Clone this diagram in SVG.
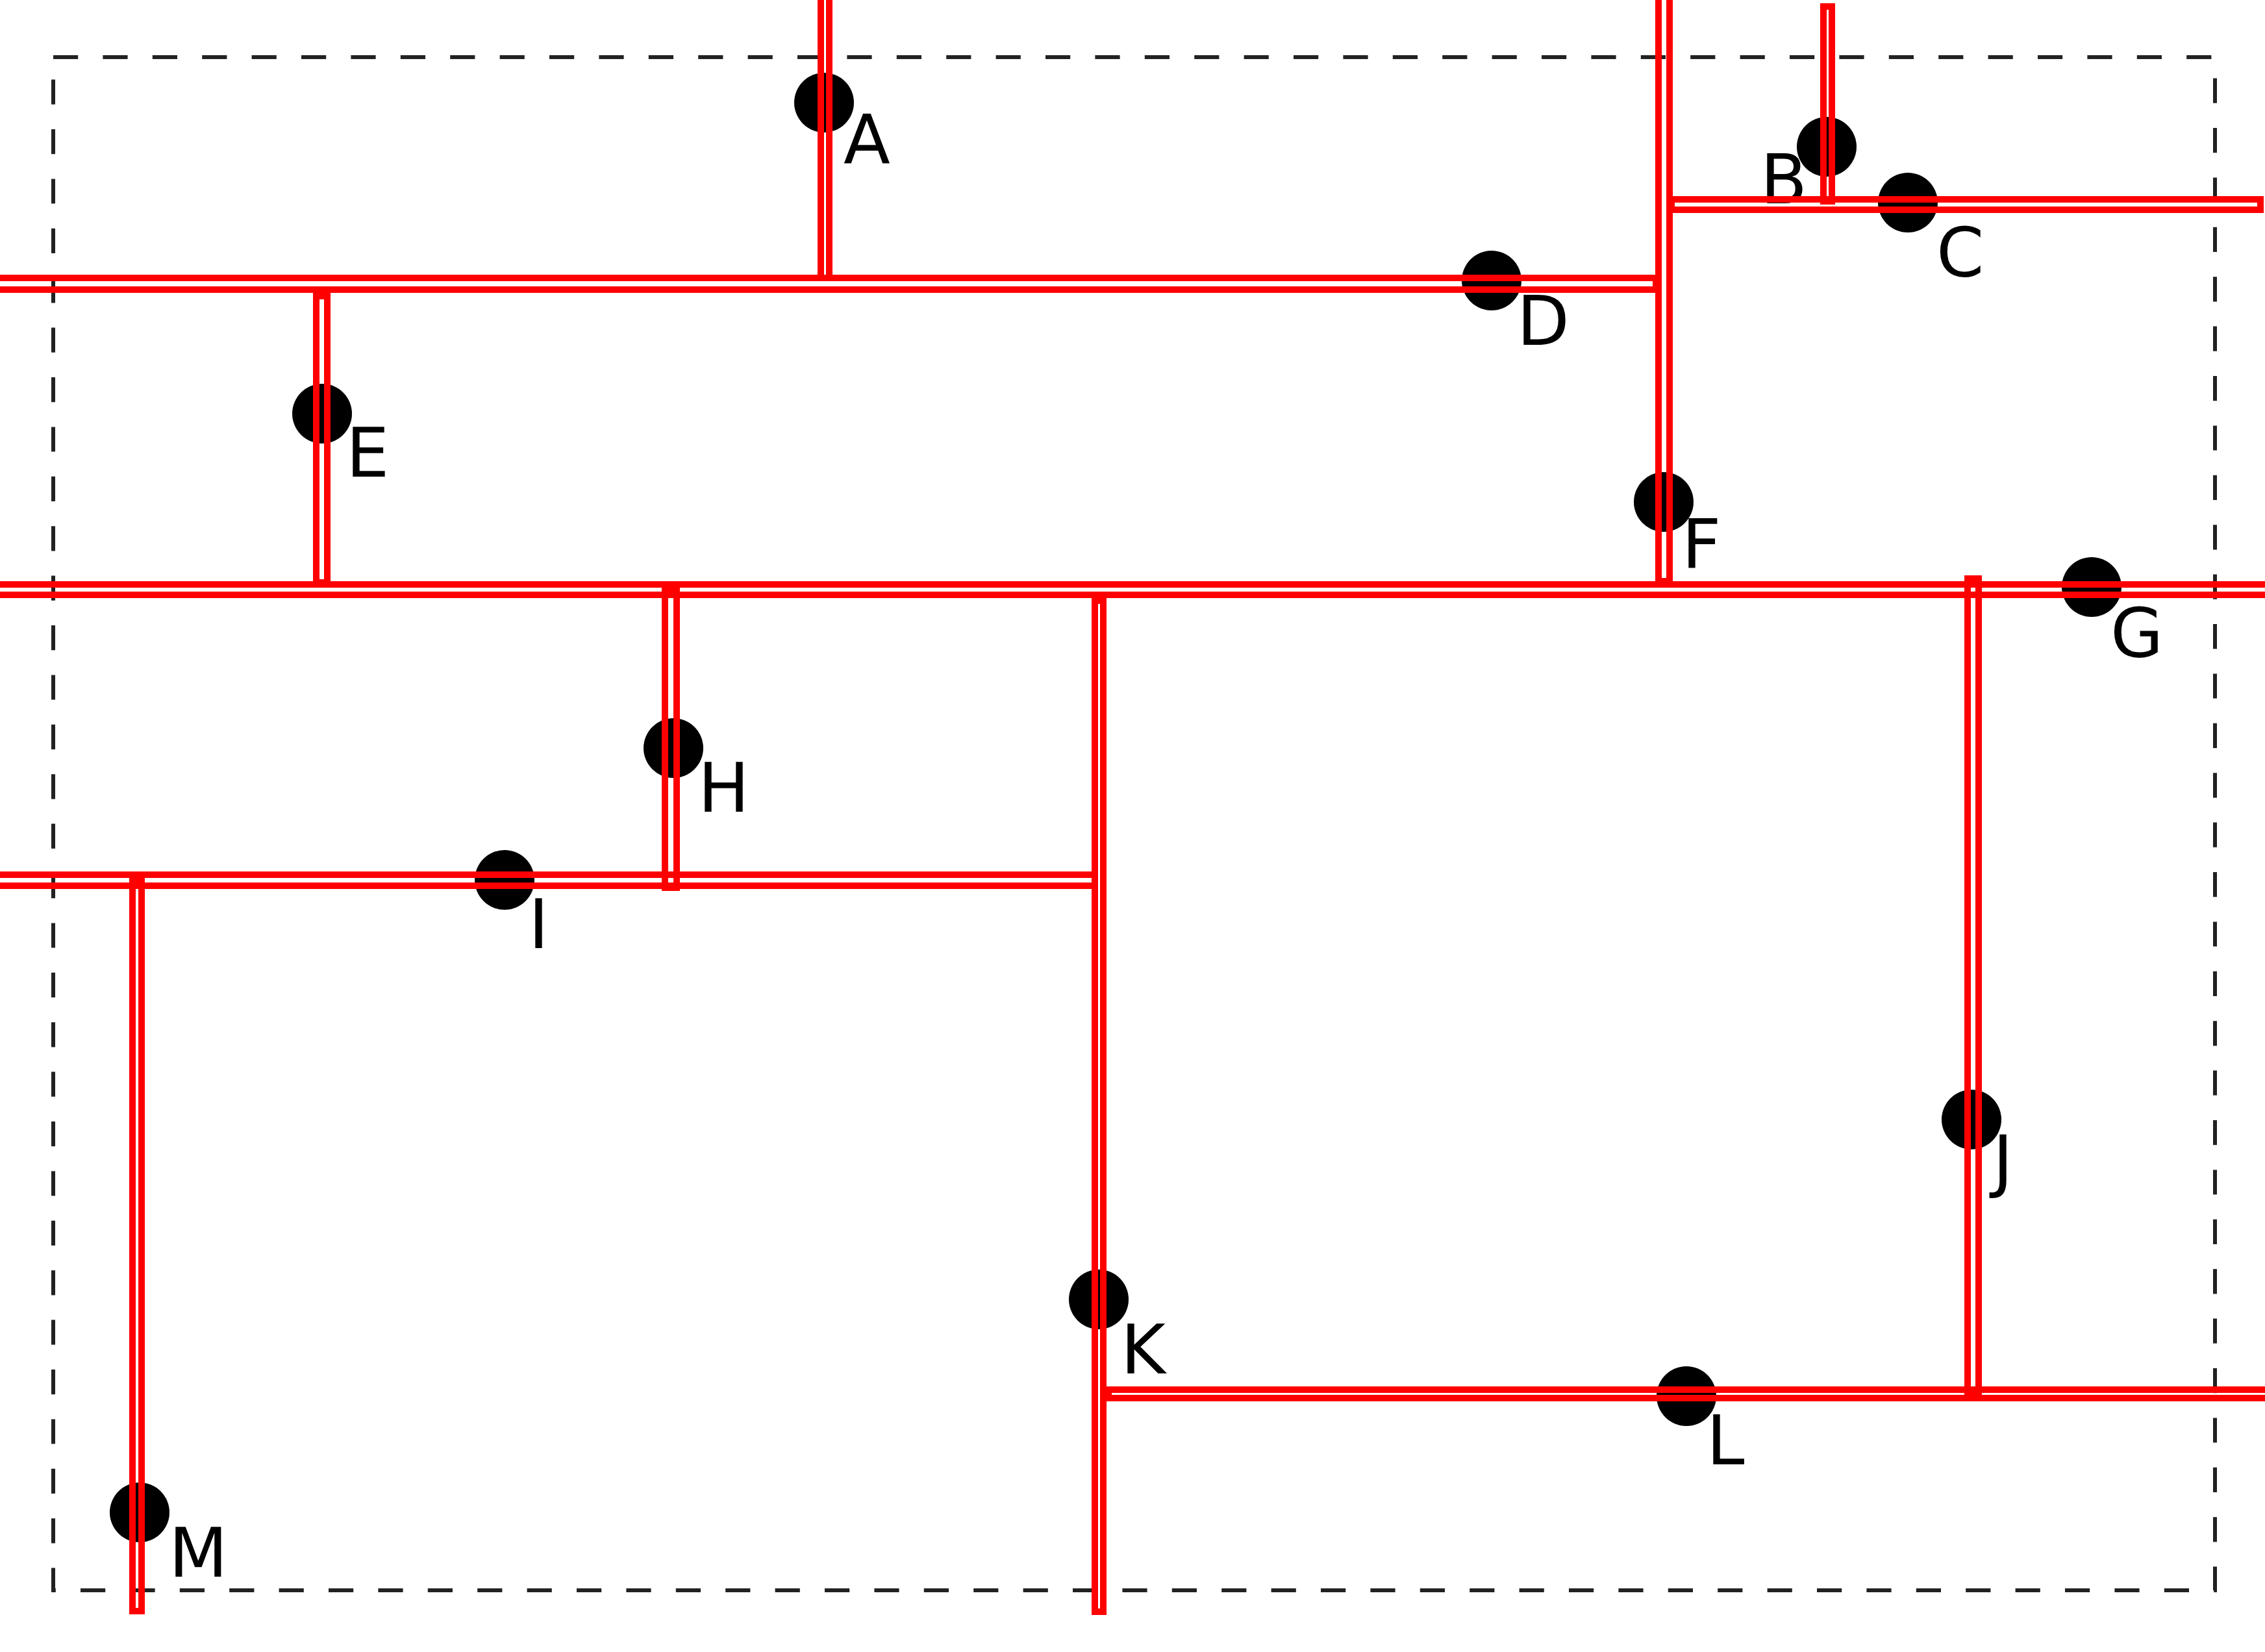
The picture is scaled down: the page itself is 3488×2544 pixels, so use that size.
<svg xmlns="http://www.w3.org/2000/svg" width="3488" height="2544" viewBox="0 0 3488 2544">
<style>
.pt{fill:#000}
.lb{font-family:"DejaVu Sans","Liberation Sans",sans-serif;font-size:105px;fill:#000}
.cut{fill:none;stroke:#ff0000;stroke-width:10}
.frame{fill:none;stroke:#222;stroke-width:6;stroke-dasharray:38.2 38.2}
</style>
<rect x="0" y="0" width="3488" height="2544" fill="#fff"/>
<rect id="frame" class="frame" x="82" y="88" width="3329" height="2361"/>
<g id="nodes">
<g id="node-A"><circle class="pt" cx="1269" cy="158" r="46"/><text class="lb" x="1299" y="252">A</text></g>
<g id="node-B"><circle class="pt" cx="2813" cy="226" r="46"/><text class="lb" x="2711" y="313">B</text></g>
<g id="node-C"><circle class="pt" cx="2938" cy="312" r="46"/><text class="lb" x="2982" y="426">C</text></g>
<g id="node-D"><circle class="pt" cx="2297" cy="432" r="46"/><text class="lb" x="2336" y="531">D</text></g>
<g id="node-E"><circle class="pt" cx="496" cy="637" r="46"/><text class="lb" x="533" y="734">E</text></g>
<g id="node-F"><circle class="pt" cx="2562" cy="773" r="46"/><text class="lb" x="2590" y="875">F</text></g>
<g id="node-G"><circle class="pt" cx="3221" cy="904" r="46"/><text class="lb" x="3250" y="1012">G</text></g>
<g id="node-H"><circle class="pt" cx="1037" cy="1152" r="46"/><text class="lb" x="1075" y="1250">H</text></g>
<g id="node-I"><circle class="pt" cx="777" cy="1355" r="46"/><text class="lb" x="814" y="1460">I</text></g>
<g id="node-J"><circle class="pt" cx="3036" cy="1724" r="46"/><text class="lb" x="3069" y="1824">J</text></g>
<g id="node-K"><circle class="pt" cx="1692" cy="2001" r="46"/><text class="lb" x="1726" y="2115">K</text></g>
<g id="node-L"><circle class="pt" cx="2597" cy="2150" r="46"/><text class="lb" x="2628" y="2255">L</text></g>
<g id="node-M"><circle class="pt" cx="215" cy="2329" r="46"/><text class="lb" x="260" y="2428">M</text></g>
</g>
<g id="connectors">
<rect class="cut" x="1264" y="-5" width="13" height="433"/>
<rect class="cut" x="2554" y="-5" width="17" height="900"/>
<rect class="cut" x="2808" y="10" width="13" height="300"/>
<rect class="cut" x="2574" y="307" width="907" height="16"/>
<rect class="cut" x="-5" y="428" width="2555" height="18"/>
<rect class="cut" x="487" y="456" width="17" height="441"/>
<rect class="cut" x="-5" y="900" width="3498" height="16"/>
<rect class="cut" x="1024" y="910" width="18" height="457"/>
<rect class="cut" x="1686" y="925" width="13" height="1557"/>
<rect class="cut" x="-5" y="1347" width="1691" height="17"/>
<rect class="cut" x="204" y="1357" width="14" height="1124"/>
<rect class="cut" x="3030" y="891" width="17" height="1254"/>
<rect class="cut" x="1707" y="2140" width="1791" height="13"/>
</g>
</svg>
